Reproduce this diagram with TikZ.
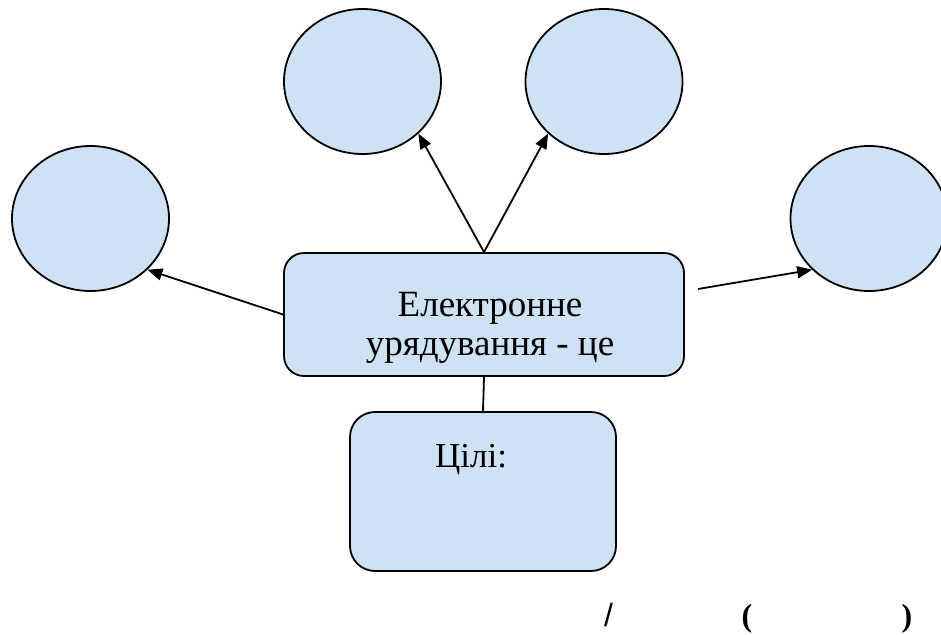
\documentclass[tikz,border=0pt]{standalone}
\usepackage{fontspec}
\setmainfont{Liberation Serif}
\newfontfamily\slashfont{Liberation Sans}
\usetikzlibrary{shapes.geometric,arrows.meta}
\definecolor{fillblue}{HTML}{CFE2F3}
\begin{document}
\begin{tikzpicture}[x=1pt,y=-1pt,
  bubble/.style={ellipse, draw, fill=fillblue, line width=1.8pt, minimum width=157pt, minimum height=145pt, inner sep=0pt},
  box/.style={rectangle, draw, fill=fillblue, line width=1.8pt, inner sep=0pt},
  conn/.style={line width=1.8pt, -{Triangle[length=15pt,width=12pt]}},
  link/.style={line width=1.8pt},
  lbl/.style={font=\fontsize{37}{39}\selectfont, inner sep=0pt}]
\useasboundingbox (0,0) rectangle (941,634);
\clip (0,0) rectangle (941,634);
\node[bubble] (e1) at (362.5,81.5) {};
\node[bubble] (e2) at (604,81.5) {};
\node[bubble] (e3) at (90.5,218.5) {};
\node[bubble] (e4) at (869,218.5) {};
\node[box, rounded corners=20pt, minimum width=400pt, minimum height=123pt] (main) at (484,314.5) {};
\node[lbl, align=center, anchor=base] (maintext) at (490,355) {Електронне\\урядування - це};
\node[box, rounded corners=25pt, minimum width=266pt, minimum height=159pt] (goal) at (483,491.5) {};
\node[lbl, font=\fontsize{35}{39}\selectfont, anchor=base west] (goaltext) at (435,467) {Цілі:};
\coordinate (rstart) at (698,289);
\draw[conn] (main.north) -- (e1.-43);
\draw[conn] (main.north) -- (e2.-137);
\draw[conn] (main.west) -- (e3.-42);
\draw[conn] (rstart) -- (e4.-138);
\draw[link] (main.south) -- (goal.north);
\node[font=\slashfont\fontsize{32}{32}\selectfont, inner sep=0pt, anchor=base] (slash) at (608.5,626) {/};
\node[font=\bfseries\fontsize{32}{32}\selectfont, inner sep=0pt, anchor=base] (lpar) at (747,626) {(};
\node[font=\bfseries\fontsize{32}{32}\selectfont, inner sep=0pt, anchor=base] (rpar) at (907,626) {)};
\end{tikzpicture}
\end{document}
